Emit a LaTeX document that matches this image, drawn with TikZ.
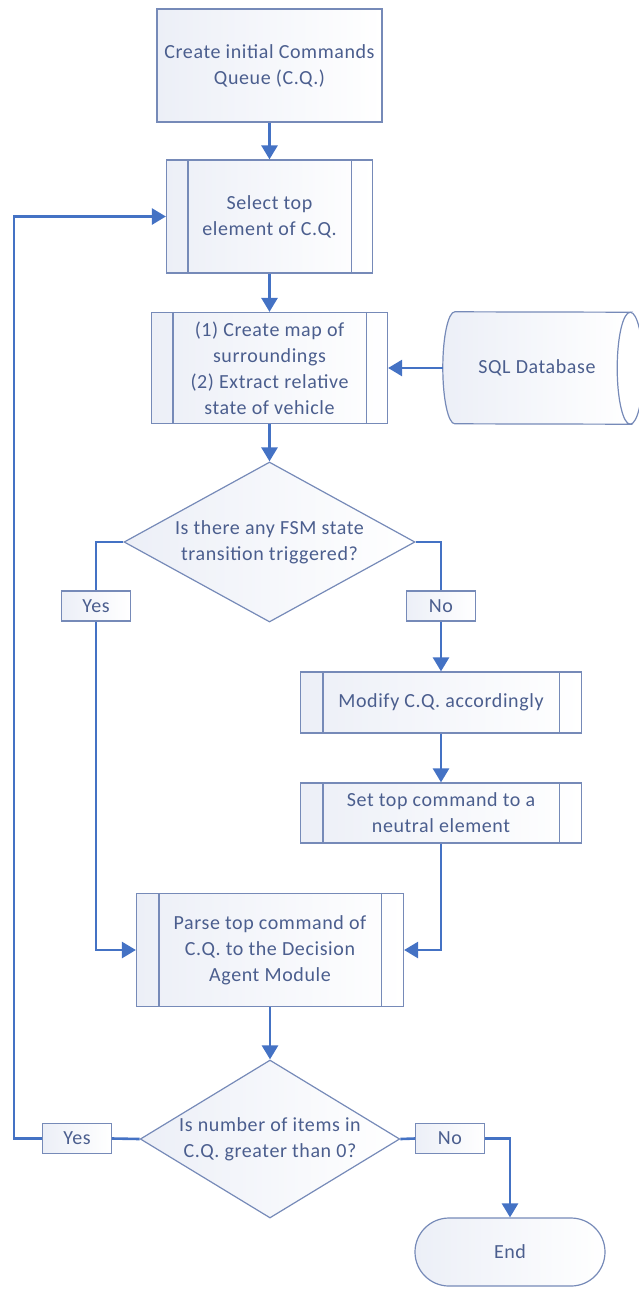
\documentclass[tikz,border=0pt]{standalone}
\usepackage{fontspec}
\setmainfont{Carlito}[LetterSpace=3]
\usetikzlibrary{arrows.meta,shapes.geometric}
\definecolor{connC}{RGB}{68,114,196}
\definecolor{bordC}{RGB}{118,138,184}
\definecolor{txtC}{RGB}{75,94,142}
\definecolor{fillL}{RGB}{236,239,247}
\tikzset{
  txt/.style={font=\fontsize{20}{26}\selectfont, text=txtC, align=center, inner sep=0pt},
  boxx/.style={txt, draw=bordC, line width=1.2pt, left color=fillL, right color=white, rectangle},
  lbl/.style={boxx, minimum width=69pt, minimum height=30pt},
  dec/.style={txt, draw=bordC, line width=1.2pt, left color=fillL, right color=white, diamond, aspect=1.8},
  conn/.style={draw=connC, line width=2.6pt, -{Triangle[length=14pt,width=16pt]}},
  line/.style={draw=connC, line width=2.6pt},
  bord/.style={draw=bordC, line width=1.2pt}
}
\newcommand{\pproc}[2]{%
  \draw[bord] ([xshift=#2]#1.north west) -- ([xshift=#2]#1.south west);
  \draw[bord] ([xshift=-#2]#1.north east) -- ([xshift=-#2]#1.south east);}
\begin{document}
\begin{tikzpicture}[x=1pt,y=-1pt]
\useasboundingbox (0,0) rectangle (638,1291);
% nodes
\node[boxx, minimum width=225pt, minimum height=113pt] (b1) at (269.5,65.5) {Create initial Commands\\Queue (C.Q.)};
\node[boxx, minimum width=206pt, minimum height=113pt] (b2) at (269.5,216.5) {Select top\\element of C.Q.};
\pproc{b2}{22pt}
\node[boxx, minimum width=236pt, minimum height=111pt] (b3) at (269.5,368) {(1) Create map of\\surroundings\\(2) Extract relative\\state of vehicle};
\pproc{b3}{22pt}
\node[txt, minimum width=188pt, minimum height=112pt] (db) at (537,368) {};
\draw[bord, left color=fillL, right color=white] ([xshift=12pt]db.north west)
   arc[start angle=90, end angle=270, x radius=12pt, y radius=56pt]
   -- ([xshift=-1pt]db.south east)
   arc[start angle=270, end angle=90, x radius=13pt, y radius=56pt] -- cycle;
\draw[bord] ([xshift=-1pt]db.south east) arc[start angle=-90, end angle=90, x radius=13pt, y radius=56pt];
\node[txt] at (db.center) {SQL Database};
\node[dec, minimum width=291pt, minimum height=160pt] (d1) at (269.5,542) {Is there any FSM state\\transition triggered?};
\node[lbl] (y1) at (96,606) {Yes};
\node[lbl] (n1) at (441,606) {No};
\node[boxx, minimum width=281pt, minimum height=61pt] (b4) at (441,702.5) {Modify C.Q. accordingly};
\pproc{b4}{23pt}
\node[boxx, minimum width=281pt, minimum height=60pt] (b5) at (441,813) {Set top command to a\\neutral element};
\pproc{b5}{23pt}
\node[boxx, minimum width=267pt, minimum height=113pt] (b6) at (270,950) {Parse top command of\\C.Q. to the Decision\\Agent Module};
\pproc{b6}{23pt}
\node[dec, minimum width=258pt, minimum height=158pt] (d2) at (270,1139) {Is number of items in\\C.Q. greater than 0?};
\node[lbl] (y2) at (77,1138.5) {Yes};
\node[lbl] (n2) at (450,1138.5) {No};
\node[boxx, rounded corners=34pt, minimum width=190pt, minimum height=68pt] (end) at (510,1252) {End};
\coordinate (lp) at (14,1138.5);
% connectors
\draw[conn] (b1.south) -- (b2.north);
\draw[conn] (b2.south) -- (b3.north);
\draw[conn] (db.west) -- (b3.east);
\draw[conn] (b3.south) -- (d1.north);
\draw[line] (d1.west) -| (y1.north);
\draw[conn] (y1.south) |- (b6.west);
\draw[line] (d1.east) -| (n1.north);
\draw[conn] (n1.south) -- (b4.north);
\draw[conn] (b4.south) -- (b5.north);
\draw[conn] (b5.south) |- (b6.east);
\draw[conn] (b6.south) -- (d2.north);
\draw[line] (d2.west) -- (y2.east);
\draw[conn] (y2.west) -- (lp) |- (b2.west);
\draw[line] (d2.east) -- (n2.west);
\draw[conn] (n2.east) -| (end.north);
\end{tikzpicture}
\end{document}
